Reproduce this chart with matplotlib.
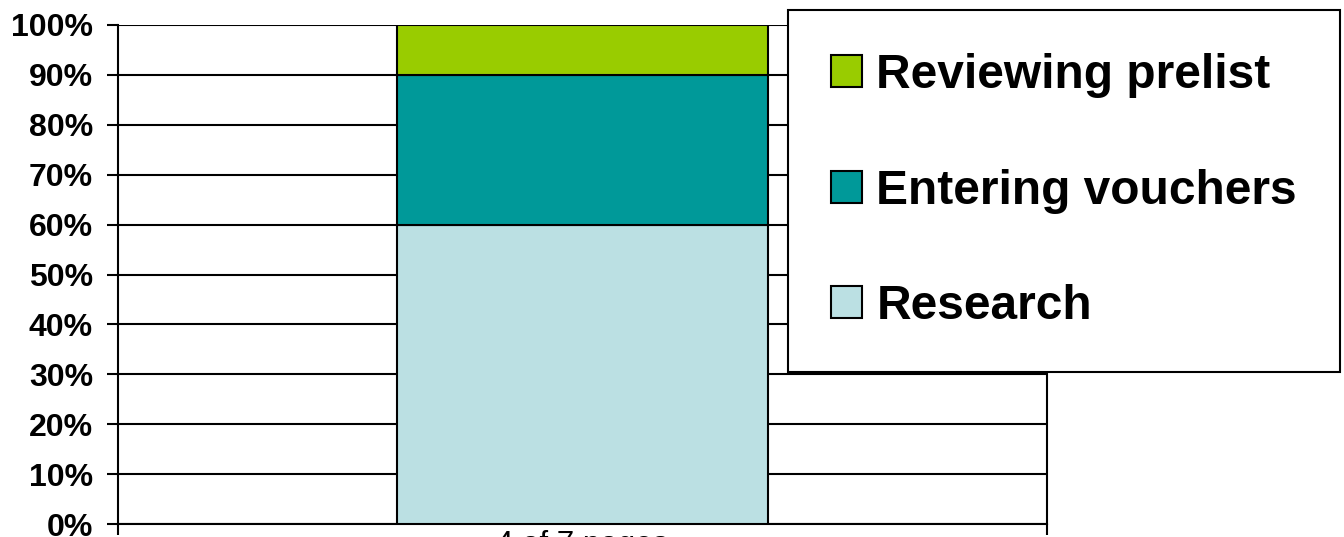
import matplotlib
matplotlib.use("Agg")
import matplotlib.pyplot as plt
from matplotlib.patches import Patch

categories = ["4 of 7 pages"]
series_names = ["Research", "Entering vouchers", "Reviewing prelist"]
series_values = [[60], [30], [10]]
series_colors = ["#BBE0E3", "#009999", "#99CC00"]
yticks = [0, 10, 20, 30, 40, 50, 60, 70, 80, 90, 100]
ytick_labels = [f"{v}%" for v in yticks]

plt.rcParams['font.family'] = ['Liberation Sans', 'DejaVu Sans']

W, H = 1344, 537
fig = plt.figure(figsize=(W / 100, H / 100), dpi=100)
ax = fig.add_axes([118 / W, 1 - 524 / H, (1047 - 118) / W, (524 - 25) / H])

x = list(range(len(categories)))
bottom = [0] * len(categories)
for name, vals, col in zip(series_names, series_values, series_colors):
    ax.bar(x, vals, width=0.4, bottom=bottom, color=col, edgecolor="black",
           linewidth=1.5, label=name, zorder=3)
    bottom = [b + v for b, v in zip(bottom, vals)]

ax.set_xlim(-0.5, len(categories) - 0.5)
ax.set_ylim(0, 100)
ax.set_yticks(yticks)
ax.set_yticklabels(ytick_labels, fontsize=23, fontweight="bold")
ax.yaxis.grid(True, color="black", linewidth=1.5, zorder=1)
ax.set_axisbelow(True)
ax.tick_params(axis="y", length=8, width=1.5, pad=10, direction="out")

ax.set_xticks([-0.5 + i for i in range(len(categories) + 1)], minor=True)
ax.set_xticks(x)
ax.set_xticklabels(categories, fontsize=22.5)
ax.tick_params(axis="x", which="major", length=0, pad=4)
ax.tick_params(axis="x", which="minor", length=8, width=1.5, direction="out")

for s in ["top"]:
    ax.spines[s].set_visible(False)
for s in ["left", "right", "bottom"]:
    ax.spines[s].set_linewidth(1.5)

handles = [Patch(facecolor=c, edgecolor="black", linewidth=1.5, label=n)
           for n, c in zip(series_names, series_colors)][::-1]
leg = fig.legend(handles=handles, loc="upper right",
                 bbox_to_anchor=(1340 / W, 1 - 10 / H),
                 prop={"family": ["Liberation Sans", "DejaVu Sans"], "weight": "bold", "size": 34.5},
                 frameon=True, fancybox=False, shadow=False, framealpha=1.0,
                 handlelength=0.65, handleheight=0.65, handletextpad=0.3,
                 labelspacing=1.47, borderpad=0.9, borderaxespad=0)
leg.get_frame().set_edgecolor("black")
leg.get_frame().set_linewidth(1.5)
leg.get_frame().set_facecolor("white")
leg.set_zorder(10)

fig.savefig("out.png", dpi=100)
